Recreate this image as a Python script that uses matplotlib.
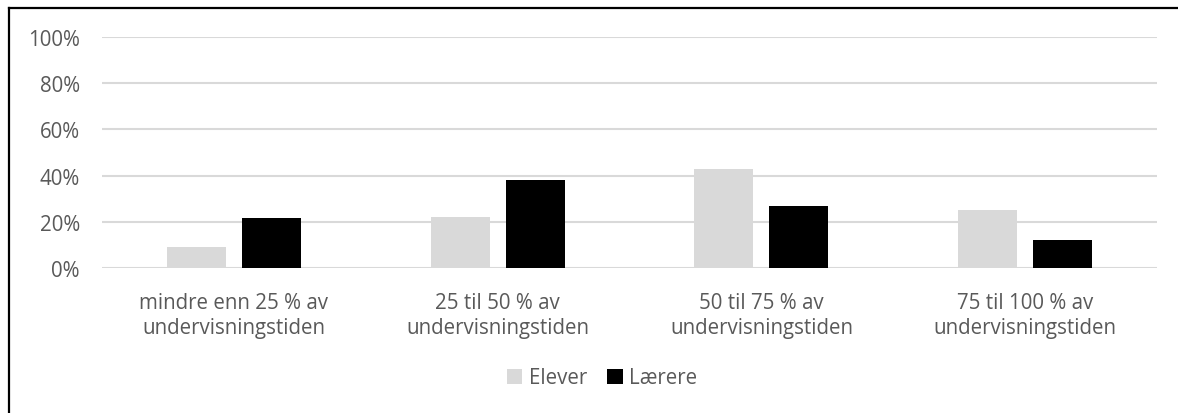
import numpy as np
import matplotlib.pyplot as plt
from matplotlib.lines import Line2D

categories = ['mindre enn 25 % av\nundervisningstiden',
              '25 til 50 % av\nundervisningstiden',
              '50 til 75 % av\nundervisningstiden',
              '75 til 100 % av\nundervisningstiden']
elever = [9.0, 22.0, 42.7, 25.0]
laerere = [21.5, 38.0, 27.0, 12.3]
yticks = [0, 20, 40, 60, 80, 100]

plt.rcParams['font.family'] = ['Open Sans', 'DejaVu Sans']
txt = '#595959'
fs = 14.8

fig = plt.figure(figsize=(11.78, 4.14), dpi=100)
ax = fig.add_axes([102 / 1178, 1 - 269 / 414, 1055 / 1178, 231 / 414])

x = np.arange(len(categories))
w = 0.224
off = 0.142
ax.bar(x - off, elever, w, color='#d9d9d9', label='Elever', zorder=3)
ax.bar(x + off, laerere, w, color='#000000', label='Lærere', zorder=3)

ax.set_xlim(-0.5, len(categories) - 0.5)
ax.set_ylim(0, 100)
ax.set_yticks(yticks)
ax.set_yticklabels([f'{t}%' for t in yticks], color=txt, fontsize=fs)
ax.yaxis.grid(True, color='#d9d9d9', linewidth=1.5, zorder=0)
ax.set_xticks(x)
ax.set_xticklabels(categories, color=txt, fontsize=fs, linespacing=1.3)
ax.tick_params(axis='both', length=0)
ax.tick_params(axis='x', pad=17)
ax.tick_params(axis='y', pad=16)
for s in ax.spines.values():
    s.set_visible(False)

ax.legend(loc='center', bbox_to_anchor=(0.474, -0.475), ncol=2, frameon=False,
          handlelength=0.75, handleheight=0.75, handletextpad=0.3,
          columnspacing=1.0, fontsize=fs, labelcolor=txt)

# outer frame: only left and top edges visible in the crop
fig.add_artist(Line2D([9 / 1178, 9 / 1178], [0, 1 - 9 / 414], transform=fig.transFigure,
                      color='black', linewidth=1.6))
fig.add_artist(Line2D([9 / 1178, 1], [1 - 9 / 414, 1 - 9 / 414], transform=fig.transFigure,
                      color='black', linewidth=1.6))

fig.savefig('out.png', dpi=100)
